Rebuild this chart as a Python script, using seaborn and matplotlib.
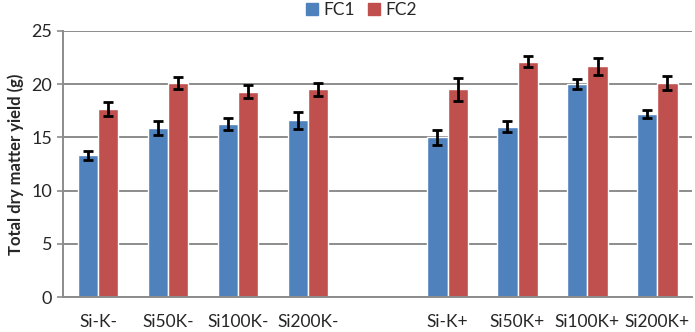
import pandas as pd
import seaborn as sns
import matplotlib.pyplot as plt
from matplotlib.patches import Patch

# Treatments (blank slot separates the K- and K+ groups)
categories = ['Si-K-', 'Si50K-', 'Si100K-', 'Si200K-', ' ',
              'Si-K+', 'Si50K+', 'Si100K+', 'Si200K+']
treatments = ['Si-K-', 'Si50K-', 'Si100K-', 'Si200K-',
              'Si-K+', 'Si50K+', 'Si100K+', 'Si200K+']
fc1 = [13.3, 15.9, 16.25, 16.6, 15.0, 16.0, 20.0, 17.2]
fc2 = [17.7, 20.1, 19.3, 19.5, 19.5, 22.1, 21.7, 20.1]
fc1_err = [0.45, 0.65, 0.6, 0.8, 0.7, 0.5, 0.45, 0.35]
fc2_err = [0.65, 0.6, 0.6, 0.6, 1.05, 0.5, 0.8, 0.65]
series = ['FC1', 'FC2']
colors = ['#4F81BD', '#C0504D']

df = pd.concat([
    pd.DataFrame({'Treatment': treatments, 'Yield': fc1, 'Err': fc1_err, 'Series': 'FC1'}),
    pd.DataFrame({'Treatment': treatments, 'Yield': fc2, 'Err': fc2_err, 'Series': 'FC2'}),
], ignore_index=True)

sns.set_style('white')
plt.rcParams['font.family'] = ['Lato', 'DejaVu Sans']

fig = plt.figure(figsize=(6.95, 3.32), dpi=100)
ax = fig.add_axes([0.091, 0.105, 0.905, 0.802])

sns.barplot(data=df, x='Treatment', y='Yield', hue='Series', order=categories,
            hue_order=series, palette=colors, width=0.58, saturation=1,
            errorbar=None, legend=False, ax=ax, zorder=2)

# error bars on each bar
for container, name in zip(ax.containers, series):
    errs = df[df['Series'] == name]['Err'].tolist()
    for bar, e in zip(container, errs):
        ax.errorbar(bar.get_x() + bar.get_width() / 2, bar.get_height(), yerr=e,
                    color='black', capsize=3.5, elinewidth=2, capthick=2, zorder=3)

ax.set_ylim(0, 25)
ax.set_yticks(range(0, 26, 5))
ax.set_xlim(-0.5, len(categories) - 0.5)
ax.grid(axis='y', color='#8c8c8c', linewidth=1.4, zorder=0)
ax.set_axisbelow(True)
for s in ['top', 'right']:
    ax.spines[s].set_visible(False)
for s in ['left', 'bottom']:
    ax.spines[s].set_color('#8c8c8c')
    ax.spines[s].set_linewidth(1.4)

ax.set_xticks(range(len(categories)))
ax.set_xticklabels(categories)
ax.set_xticks([i - 0.5 for i in range(len(categories) + 1)], minor=True)
ax.tick_params(axis='x', which='major', length=0, pad=12, labelsize=12.5)
ax.tick_params(axis='x', which='minor', length=5, width=1.2, color='#8c8c8c', direction='out')
ax.tick_params(axis='y', length=4, width=1.2, color='#8c8c8c', direction='out',
               left=True, labelsize=13, pad=4)

ax.set_xlabel('')
ax.set_ylabel('Total dry matter yield (g)', fontweight='bold', fontsize=12, labelpad=5)

handles = [Patch(color=c, label=s) for c, s in zip(colors, series)]
fig.legend(handles=handles, loc='upper center', bbox_to_anchor=(0.52, 1.04), ncol=2,
           frameon=False, fontsize=12.5, handlelength=0.7, handleheight=0.7,
           handletextpad=0.3, columnspacing=0.8)

fig.savefig('out.png', dpi=100)
